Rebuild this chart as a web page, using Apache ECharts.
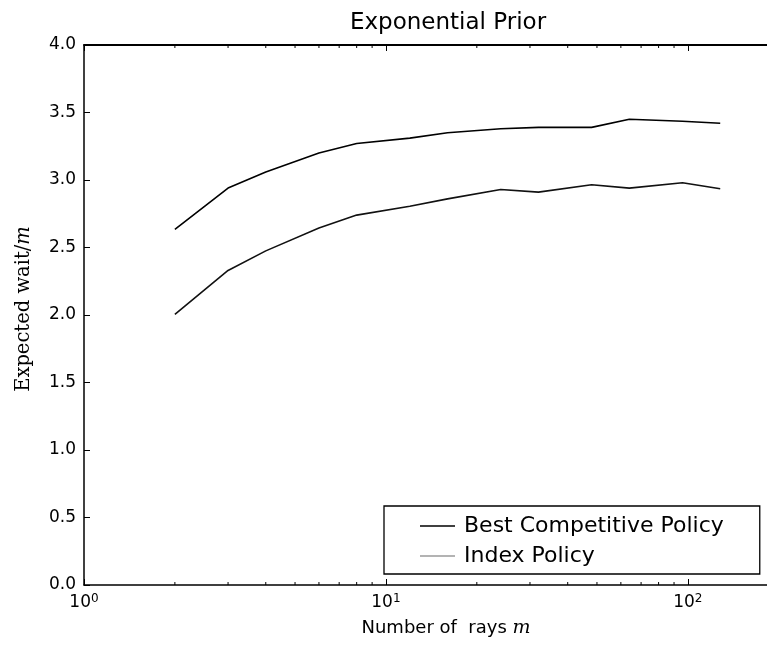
<!DOCTYPE html>
<html>
<head>
<meta charset="utf-8">
<script src="https://cdn.jsdelivr.net/npm/echarts@6/dist/echarts.min.js"></script>
<style>
html,body{margin:0;padding:0;background:#fff;overflow:hidden;width:767px;height:645px;}
#chart{width:812px;height:645px;}
</style>
</head>
<body>
<div id="chart"></div>
<script>
// ---- data ----
const rays = [2, 3, 4, 6, 8, 12, 16, 24, 32, 48, 64, 96, 128];
const bestCompetitive = [2.635, 2.94, 3.06, 3.20, 3.27, 3.31, 3.35, 3.38, 3.39, 3.39, 3.45, 3.435, 3.42];
const indexPolicy = [2.005, 2.33, 2.475, 2.645, 2.74, 2.805, 2.86, 2.93, 2.91, 2.965, 2.94, 2.98, 2.935];
const minorTicks = [2, 3, 4, 5, 6, 7, 8, 9, 20, 30, 40, 50, 60, 70, 80, 90, 200];
const xMin = 1, xMax = 250, yMin = 0, yMax = 4;

const chart = echarts.init(document.getElementById('chart'), null, {renderer: 'canvas'});

function logLabel(v) {
  const e = Math.round(Math.log10(v));
  if (Math.abs(v - Math.pow(10, e)) > 1e-6 * v) return '';
  return '{b|10}{s|' + e + '}';
}

const option = {
  animation: false,
  backgroundColor: '#fff',
  title: {
    text: 'Exponential Prior',
    left: 443, top: 7,
    textAlign: 'center',
    textStyle: {fontFamily: 'DejaVu Sans', fontSize: 23, fontWeight: 'normal', color: '#000'}
  },
  grid: {left: 84, width: 724, top: 45, height: 540, containLabel: false},
  legend: {
    orient: 'vertical',
    left: 384, top: 506,
    padding: [9, 36, 7, 36],
    itemGap: 8,
    itemWidth: 35,
    itemHeight: 1.6,
    icon: 'rect',
    borderColor: '#000', borderWidth: 1.3, borderRadius: 0,
    backgroundColor: '#fff',
    textStyle: {fontFamily: 'DejaVu Sans', fontSize: 22, color: '#000', padding: [0, 0, 0, 4]},
    data: [
      {name: 'Best Competitive Policy', itemStyle: {color: '#000'}},
      {name: 'Index Policy', itemStyle: {color: '#9a9a9a'}}
    ]
  },
  xAxis: [{
    type: 'log', logBase: 10, min: xMin, max: xMax,
    position: 'bottom',
    name: 'Number of  rays {i|m}',
    nameLocation: 'middle', nameGap: 34,
    nameTextStyle: {fontFamily: 'DejaVu Sans', fontSize: 18, color: '#000',
      rich: {i: {fontFamily: 'DejaVu Serif', fontStyle: 'italic', fontSize: 19, color: '#000'}}},
    axisLine: {show: true, lineStyle: {color: '#000', width: 1.5}},
    axisTick: {show: true, inside: true, length: 6, lineStyle: {color: '#000', width: 1}},
    splitLine: {show: false},
    axisLabel: {show: true, margin: 8, formatter: logLabel, color: '#000',
      rich: {b: {fontFamily: 'DejaVu Sans', fontSize: 17, color: '#000'},
             s: {fontFamily: 'DejaVu Sans', fontSize: 12, color: '#000', verticalAlign: 'top', padding: [0,0,8,0]}}}
  }, {
    type: 'log', logBase: 10, min: xMin, max: xMax,
    position: 'top',
    axisLine: {show: true, lineStyle: {color: '#000', width: 1.8}},
    axisTick: {show: true, inside: true, length: 6, lineStyle: {color: '#000', width: 1}},
    axisLabel: {show: false}, splitLine: {show: false}
  }],
  yAxis: [{
    type: 'value', min: yMin, max: yMax, interval: 0.5,
    name: '{r|Expected wait/}{i|m}',
    nameLocation: 'middle', nameGap: 50, nameRotate: 90,
    nameTextStyle: {padding: [0, 0, 0, 12], rich: {
      r: {fontFamily: 'DejaVu Serif', fontSize: 19.5, color: '#000'},
      i: {fontFamily: 'DejaVu Serif', fontStyle: 'italic', fontSize: 19.5, color: '#000'}}},
    axisLine: {show: true, lineStyle: {color: '#000', width: 1.5}},
    axisTick: {show: true, inside: true, length: 6, lineStyle: {color: '#000', width: 1}},
    splitLine: {show: false},
    axisLabel: {fontFamily: 'DejaVu Sans', fontSize: 17, color: '#000', margin: 8,
      formatter: v => v.toFixed(1)}
  }],
  series: [
    {
      name: 'Best Competitive Policy', type: 'line',
      data: rays.map((r, i) => [r, bestCompetitive[i]]),
      symbol: 'none', showSymbol: false,
      lineStyle: {color: '#000', width: 1.6}, itemStyle: {color: '#000'}
    },
    {
      name: 'Index Policy', type: 'line',
      data: rays.map((r, i) => [r, indexPolicy[i]]),
      symbol: 'none', showSymbol: false,
      lineStyle: {color: '#111', width: 1.6}, itemStyle: {color: '#9a9a9a'}
    },
    {
      name: 'minor', type: 'custom', silent: true, clip: false,
      data: minorTicks.map(v => [v, yMin]),
      encode: {x: 0, y: 1},
      renderItem: function (params, api) {
        const v = api.value(0);
        const b = api.coord([v, yMin]);
        const t = api.coord([v, yMax]);
        return {type: 'group', children: [
          {type: 'line', shape: {x1: b[0], y1: b[1], x2: b[0], y2: b[1] - 3}, style: {stroke: '#000', lineWidth: 1}},
          {type: 'line', shape: {x1: t[0], y1: t[1], x2: t[0], y2: t[1] + 3}, style: {stroke: '#000', lineWidth: 1}}
        ]};
      }
    }
  ]
};
chart.setOption(option);
</script>
</body>
</html>
